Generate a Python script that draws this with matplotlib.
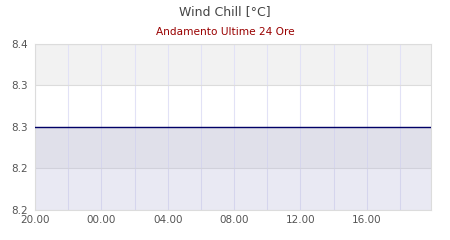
import matplotlib
matplotlib.use("Agg")
import matplotlib.pyplot as plt
from matplotlib.ticker import FormatStrFormatter

# ore dalle 20.00 di ieri (in ore trascorse) e valori di wind chill
hours = [0, 2, 4, 6, 8, 10, 12, 14, 16, 18, 20, 22, 23.85]
wind_chill = [8.3, 8.3, 8.3, 8.3, 8.3, 8.3, 8.3, 8.3, 8.3, 8.3, 8.3, 8.3, 8.3]
y_ticks = [8.2, 8.25, 8.3, 8.35, 8.4]
x_ticks = [0, 4, 8, 12, 16, 20]
x_labels = ["20.00", "00.00", "04.00", "08.00", "12.00", "16.00"]

fig = plt.figure(figsize=(4.5, 2.4), dpi=100)
ax = fig.add_axes([0.0778, 0.127, 0.879, 0.691])

# bande alternate
band_colors = ["white", "#f2f2f2"]
for i in range(len(y_ticks) - 1):
    ax.axhspan(y_ticks[i], y_ticks[i + 1], color=band_colors[i % 2], lw=0, zorder=0)

for h in range(0, 24, 2):
    ax.axvline(h, color="#e2e2f6", lw=0.8, zorder=1)
for y in y_ticks:
    ax.axhline(y, color="#dcdcdc", lw=0.8, zorder=1)

ax.fill_between(hours, wind_chill, y_ticks[0], color="#bbbbdb", alpha=0.31, lw=0, zorder=2)
ax.plot(hours, wind_chill, color="#000066", lw=1.0, zorder=3)

ax.set_xlim(hours[0], hours[-1])
ax.set_ylim(y_ticks[0], y_ticks[-1])
ax.set_yticks(y_ticks)
ax.yaxis.set_major_formatter(FormatStrFormatter("%.1f"))
ax.set_xticks(x_ticks)
ax.set_xticklabels(x_labels)
ax.tick_params(length=0, labelsize=7.5, colors="#555555", pad=4)
ax.tick_params(axis="y", pad=5)
for s in ax.spines.values():
    s.set_color("#dcdcdc")
    s.set_linewidth(0.8)

fig.text(0.5, 0.952, "Wind Chill [°C]", ha="center", va="center", fontsize=9, color="#444444")
fig.text(0.5, 0.868, "Andamento Ultime 24 Ore", ha="center", va="center", fontsize=7.6, color="#990000")

fig.savefig("out.png", dpi=100)
